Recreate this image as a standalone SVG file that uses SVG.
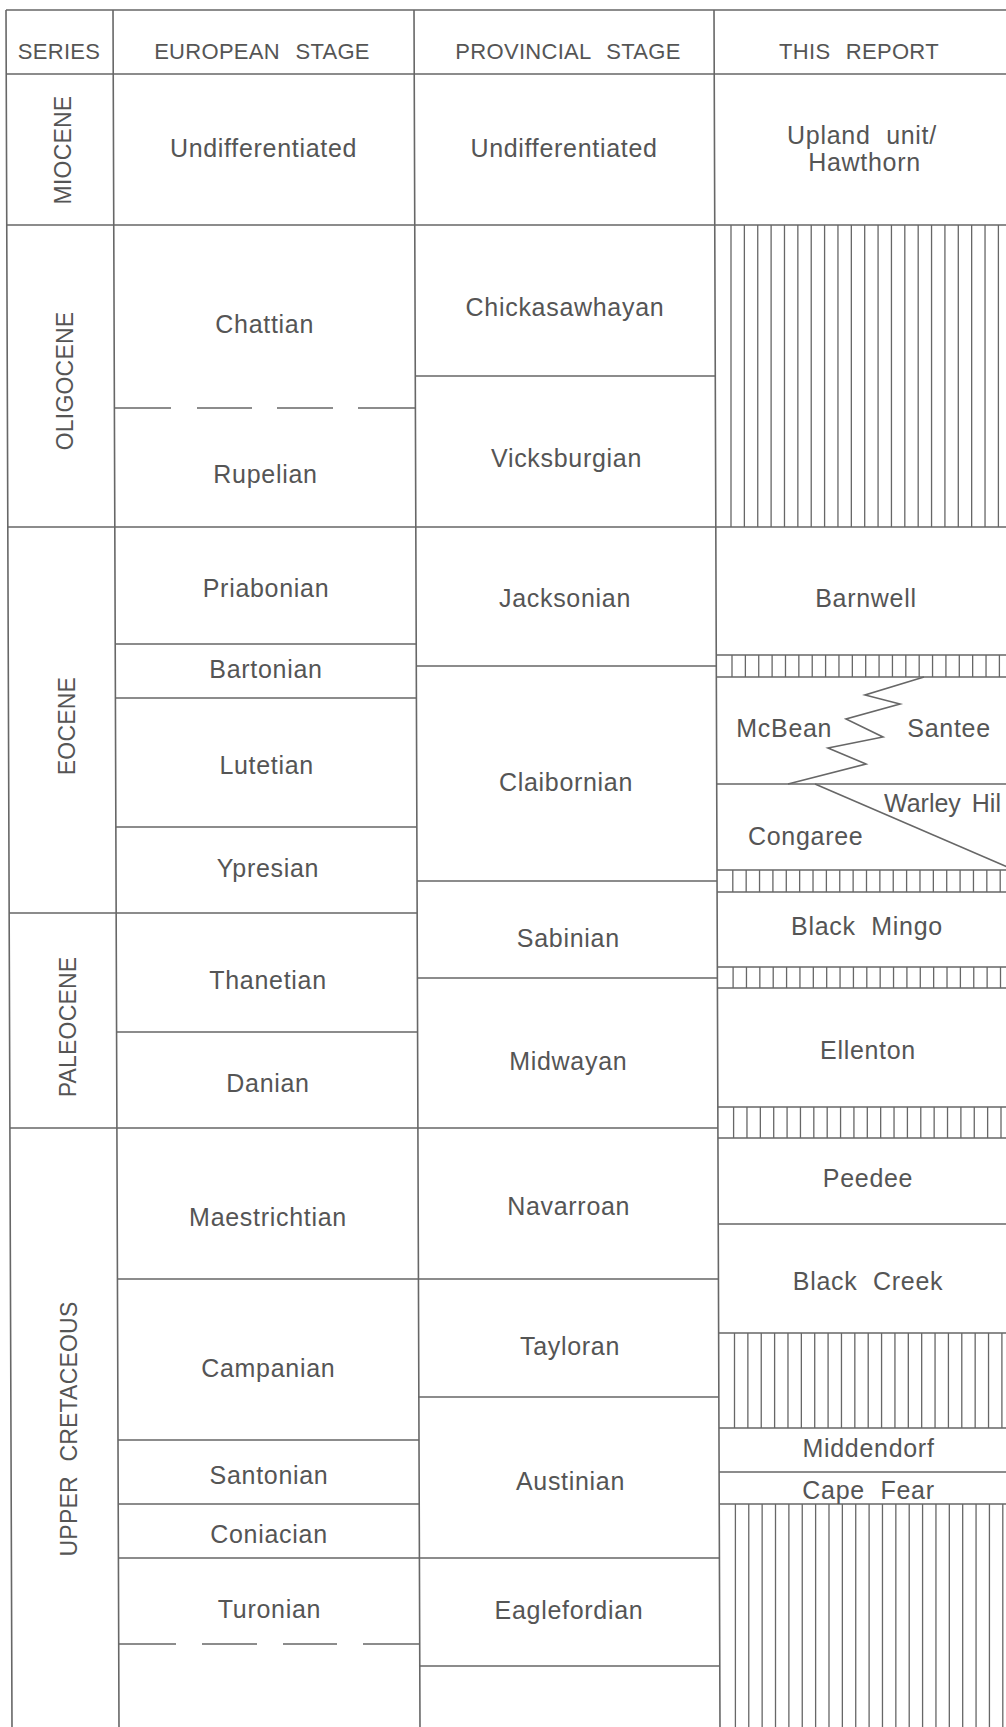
<svg xmlns="http://www.w3.org/2000/svg" width="1006" height="1727" viewBox="0 0 1006 1727">
<style>
.ln{stroke:#676767;stroke-width:1.6;fill:none}
.ht{stroke:#676767;stroke-width:1.3;fill:none}
text{font-family:"Liberation Sans",Arial,sans-serif;fill:#555;font-size:25px;letter-spacing:0.7px;word-spacing:8px;text-anchor:middle}
.h{font-size:22px;letter-spacing:0.3px;word-spacing:9px}
.s{font-size:23px;letter-spacing:0.2px}
.l{text-anchor:start}
.tight{letter-spacing:0;word-spacing:4px}
</style>
<rect width="1006" height="1727" fill="#fff"/>
<g id="connectors">
<g id="frame" class="ln">
<path d="M6,10L12,1727M113,10L119,1727M414,10L420,1727M714,10L720,1727"/>
<path d="M6,10H1006M6,74H1006M7,225H1006M8,527H1006"/>
<path d="M415,376H715M115,644H416M416,666H716M716,655H1006M716,677H1006M115,698H416M716,784H1006M116,827H417M717,870H1006M417,881H717M717,892H1006M9,913H417M717,967H1006M417,978H717M717,988H1006M117,1032H418M718,1107H1006M10,1128H718M718,1138H1006M718,1224H1006M117,1279H718M719,1333H1006M418,1397H719M719,1428H1006M118,1440H419M719,1472H1006M118,1504H419M719,1504H1006M118,1558H720M419,1666H720"/>
<path d="M115,408H171M197,408H252M277,408H333M358,408H415"/>
<path d="M119,1644H176M202,1644H257M283,1644H337M363,1644H419"/>
<path d="M924,677L865,695L900,704L846,719L883,737L828,748L866,764L788,784"/>
<path d="M815,784L1010,868"/>
</g>
<g id="hatching" class="ht">
<path d="M731,225v302m13.37,-302v302m13.37,-302v302m13.37,-302v302m13.37,-302v302m13.37,-302v302m13.37,-302v302m13.37,-302v302m13.37,-302v302m13.37,-302v302m13.37,-302v302m13.37,-302v302m13.37,-302v302m13.37,-302v302m13.37,-302v302m13.37,-302v302m13.37,-302v302m13.37,-302v302m13.37,-302v302m13.37,-302v302m13.37,-302v302"/>
<path d="M732,655v22m13.37,-22v22m13.37,-22v22m13.37,-22v22m13.37,-22v22m13.37,-22v22m13.37,-22v22m13.37,-22v22m13.37,-22v22m13.37,-22v22m13.37,-22v22m13.37,-22v22m13.37,-22v22m13.37,-22v22m13.37,-22v22m13.37,-22v22m13.37,-22v22m13.37,-22v22m13.37,-22v22m13.37,-22v22m13.37,-22v22"/>
<path d="M732.8,870v22m13.37,-22v22m13.37,-22v22m13.37,-22v22m13.37,-22v22m13.37,-22v22m13.37,-22v22m13.37,-22v22m13.37,-22v22m13.37,-22v22m13.37,-22v22m13.37,-22v22m13.37,-22v22m13.37,-22v22m13.37,-22v22m13.37,-22v22m13.37,-22v22m13.37,-22v22m13.37,-22v22m13.37,-22v22m13.37,-22v22"/>
<path d="M733.1,967v21m13.37,-21v21m13.37,-21v21m13.37,-21v21m13.37,-21v21m13.37,-21v21m13.37,-21v21m13.37,-21v21m13.37,-21v21m13.37,-21v21m13.37,-21v21m13.37,-21v21m13.37,-21v21m13.37,-21v21m13.37,-21v21m13.37,-21v21m13.37,-21v21m13.37,-21v21m13.37,-21v21m13.37,-21v21m13.37,-21v21"/>
<path d="M733.6,1107v31m13.37,-31v31m13.37,-31v31m13.37,-31v31m13.37,-31v31m13.37,-31v31m13.37,-31v31m13.37,-31v31m13.37,-31v31m13.37,-31v31m13.37,-31v31m13.37,-31v31m13.37,-31v31m13.37,-31v31m13.37,-31v31m13.37,-31v31m13.37,-31v31m13.37,-31v31m13.37,-31v31m13.37,-31v31m13.37,-31v31"/>
<path d="M734.5,1333v95m13.37,-95v95m13.37,-95v95m13.37,-95v95m13.37,-95v95m13.37,-95v95m13.37,-95v95m13.37,-95v95m13.37,-95v95m13.37,-95v95m13.37,-95v95m13.37,-95v95m13.37,-95v95m13.37,-95v95m13.37,-95v95m13.37,-95v95m13.37,-95v95m13.37,-95v95m13.37,-95v95m13.37,-95v95m13.37,-95v95"/>
<path d="M735.4,1504v223m13.37,-223v223m13.37,-223v223m13.37,-223v223m13.37,-223v223m13.37,-223v223m13.37,-223v223m13.37,-223v223m13.37,-223v223m13.37,-223v223m13.37,-223v223m13.37,-223v223m13.37,-223v223m13.37,-223v223m13.37,-223v223m13.37,-223v223m13.37,-223v223m13.37,-223v223m13.37,-223v223m13.37,-223v223m13.37,-223v223"/>
</g>
</g>
<g id="header">
<g id="h-series"><text class="h" x="59" y="59">SERIES</text></g>
<g id="h-european"><text class="h" x="262" y="59">EUROPEAN STAGE</text></g>
<g id="h-provincial"><text class="h" x="568" y="59">PROVINCIAL STAGE</text></g>
<g id="h-report"><text class="h" x="859" y="59">THIS REPORT</text></g>
</g>
<g id="series">
<g id="s-miocene"><text class="s" transform="translate(71,150) rotate(-90)">MIOCENE</text></g>
<g id="s-oligocene"><text class="s" transform="translate(72.7,381) rotate(-90)">OLIGOCENE</text></g>
<g id="s-eocene"><text class="s" transform="translate(75,726) rotate(-90)">EOCENE</text></g>
<g id="s-paleocene"><text class="s" transform="translate(76,1027) rotate(-90)">PALEOCENE</text></g>
<g id="s-cretaceous"><text class="s" transform="translate(77.3,1429) rotate(-90)">UPPER CRETACEOUS</text></g>
</g>
<g id="european">
<g id="e-undiff"><text x="263.5" y="157">Undifferentiated</text></g>
<g id="e-chattian"><text x="264.7" y="333">Chattian</text></g>
<g id="e-rupelian"><text x="265.5" y="483">Rupelian</text></g>
<g id="e-priabonian"><text x="266" y="597">Priabonian</text></g>
<g id="e-bartonian"><text x="266" y="678">Bartonian</text></g>
<g id="e-lutetian"><text x="266.7" y="774">Lutetian</text></g>
<g id="e-ypresian"><text x="268" y="877">Ypresian</text></g>
<g id="e-thanetian"><text x="268" y="989">Thanetian</text></g>
<g id="e-danian"><text x="268" y="1092">Danian</text></g>
<g id="e-maestrichtian"><text x="268" y="1226">Maestrichtian</text></g>
<g id="e-campanian"><text x="268.3" y="1377">Campanian</text></g>
<g id="e-santonian"><text x="269" y="1484">Santonian</text></g>
<g id="e-coniacian"><text x="269" y="1543">Coniacian</text></g>
<g id="e-turonian"><text x="269.5" y="1618">Turonian</text></g>
</g>
<g id="provincial">
<g id="p-undiff"><text x="564" y="157">Undifferentiated</text></g>
<g id="p-chickasawhayan"><text x="565" y="316">Chickasawhayan</text></g>
<g id="p-vicksburgian"><text x="566.5" y="467">Vicksburgian</text></g>
<g id="p-jacksonian"><text x="565" y="607">Jacksonian</text></g>
<g id="p-claibornian"><text x="566" y="791">Claibornian</text></g>
<g id="p-sabinian"><text x="568.3" y="947">Sabinian</text></g>
<g id="p-midwayan"><text x="568.3" y="1070">Midwayan</text></g>
<g id="p-navarroan"><text x="568.7" y="1215">Navarroan</text></g>
<g id="p-tayloran"><text x="570" y="1355">Tayloran</text></g>
<g id="p-austinian"><text x="570.5" y="1490">Austinian</text></g>
<g id="p-eaglefordian"><text x="569" y="1619">Eaglefordian</text></g>
</g>
<g id="report">
<g id="r-upland"><text x="862" y="144">Upland unit/</text><text x="864.5" y="171">Hawthorn</text></g>
<g id="r-barnwell"><text x="866" y="607">Barnwell</text></g>
<g id="r-mcbean"><text class="l" x="736.3" y="737">McBean</text></g>
<g id="r-santee"><text class="l" x="907.3" y="737">Santee</text></g>
<g id="r-warley"><text class="l tight" x="884" y="812">Warley Hil</text></g>
<g id="r-congaree"><text class="l" x="748" y="845">Congaree</text></g>
<g id="r-blackmingo"><text x="867" y="935">Black Mingo</text></g>
<g id="r-ellenton"><text x="868" y="1059">Ellenton</text></g>
<g id="r-peedee"><text x="868" y="1187">Peedee</text></g>
<g id="r-blackcreek"><text x="868" y="1290">Black Creek</text></g>
<g id="r-middendorf"><text x="868.5" y="1457">Middendorf</text></g>
<g id="r-capefear"><text x="868.5" y="1499">Cape Fear</text></g>
</g>
</svg>
